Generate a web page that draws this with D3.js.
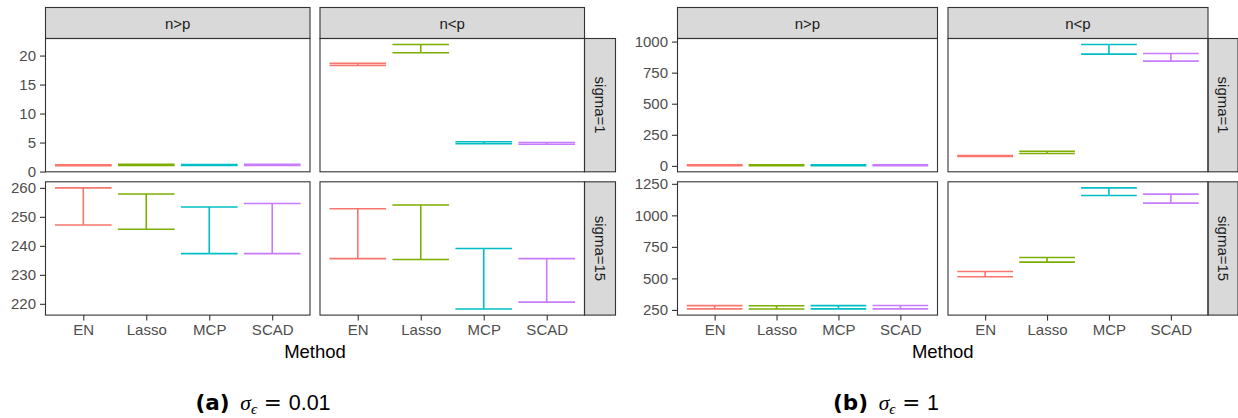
<!DOCTYPE html>
<html>
<head>
<meta charset="utf-8">
<script src="https://cdn.jsdelivr.net/npm/d3@7.9.0/dist/d3.min.js"></script>
<style>
  body { margin: 0; background: #fff; }
  text { font-family: "Liberation Sans", Arial, sans-serif; }
</style>
</head>
<body>
<svg width="1238" height="418"></svg>
<script>
// categories and facets
const methods = ["EN", "Lasso", "MCP", "SCAD"];
const regimes = ["n>p", "n<p"];
const sigmas = ["sigma=1", "sigma=15"];
const colors = ["#F8766D", "#7CAE00", "#00BFC4", "#C77CFF"];

// (a) sigma_eps = 0.01, [lower, upper] for each method
const aGtS1 = [[1.0, 1.15], [1.05, 1.25], [1.05, 1.2], [1.05, 1.25]];
const aLtS1 = [[18.3, 18.65], [20.5, 21.9], [4.8, 5.15], [4.7, 5.0]];
const aGtS15 = [[247.2, 260.0], [245.7, 257.9], [237.3, 253.4], [237.3, 254.6]];
const aLtS15 = [[235.6, 252.8], [235.3, 254.1], [218.2, 239.1], [220.6, 235.6]];
const aTicks1 = [0, 5, 10, 15, 20];
const aTicks15 = [220, 230, 240, 250, 260];

// (b) sigma_eps = 1
const bGtS1 = [[1, 8], [1, 8], [1, 8], [1, 8]];
const bLtS1 = [[75, 82], [100, 118], [899, 976], [843, 904]];
const bGtS15 = [[258, 284], [257, 283], [258, 284], [258, 285]];
const bLtS15 = [[513, 555], [629, 666], [1158, 1218], [1097, 1168]];
const bTicks1 = [0, 250, 500, 750, 1000];
const bTicks15 = [250, 500, 750, 1000, 1250];

const svg = d3.select("svg");

const stripTop = 7.5, stripH = 31, rowH = 133.3, rowGap = 10;
const rowTops = [stripTop + stripH, stripTop + stripH + rowH + rowGap];
const fs = 15;

function drawGrid(cfg) {
  const g = svg.append("g");
  const colLefts = [cfg.left, cfg.left + cfg.panelW + cfg.gap];
  const right = colLefts[1] + cfg.panelW;

  // column strips
  regimes.forEach((r, j) => {
    g.append("rect")
      .attr("x", colLefts[j]).attr("y", stripTop)
      .attr("width", cfg.panelW).attr("height", stripH)
      .attr("fill", "#D9D9D9").attr("stroke", "#333").attr("stroke-width", 1.1);
    g.append("text")
      .attr("x", colLefts[j] + cfg.panelW / 2).attr("y", stripTop + stripH / 2)
      .attr("text-anchor", "middle").attr("dominant-baseline", "central")
      .attr("font-size", fs).attr("fill", "#1A1A1A")
      .text(r);
  });

  cfg.rows.forEach((row, i) => {
    const top = rowTops[i];
    const all = row.flat(2);
    const lo = d3.min(all), hi = d3.max(all);
    const pad = (hi - lo) * 0.05;
    const y = d3.scaleLinear().domain([lo - pad, hi + pad]).range([top + rowH, top]);

    // row strip
    g.append("rect")
      .attr("x", right).attr("y", top)
      .attr("width", cfg.stripW).attr("height", rowH)
      .attr("fill", "#D9D9D9").attr("stroke", "#333").attr("stroke-width", 1.1);
    g.append("text")
      .attr("transform", `translate(${right + cfg.stripW / 2},${top + rowH / 2}) rotate(90)`)
      .attr("text-anchor", "middle").attr("dominant-baseline", "central")
      .attr("font-size", fs).attr("fill", "#1A1A1A")
      .text(sigmas[i]);

    // y axis on the left column
    const yAxis = g.append("g")
      .attr("transform", `translate(${cfg.left},0)`)
      .call(d3.axisLeft(y).tickValues(cfg.ticks[i]).tickFormat(d3.format("d"))
        .tickSize(5.5).tickPadding(4));
    yAxis.select(".domain").remove();
    yAxis.selectAll(".tick line").attr("stroke", "#333").attr("stroke-width", 1.1);
    yAxis.selectAll(".tick text")
      .attr("font-size", fs).attr("fill", "#4D4D4D")
      .style("font-family", "'Liberation Sans', Arial, sans-serif");

    row.forEach((panel, j) => {
      const x = d3.scalePoint().domain(methods)
        .range([colLefts[j], colLefts[j] + cfg.panelW]).padding(0.6);
      const capW = x.step() * 0.9;

      const bars = g.append("g");
      panel.forEach((d, k) => {
        const cx = x(methods[k]);
        const c = colors[k];
        bars.append("line")
          .attr("x1", cx).attr("x2", cx)
          .attr("y1", y(d[0])).attr("y2", y(d[1]))
          .attr("stroke", c).attr("stroke-width", 1.6);
        d.forEach(v => {
          bars.append("line")
            .attr("x1", cx - capW / 2).attr("x2", cx + capW / 2)
            .attr("y1", y(v)).attr("y2", y(v))
            .attr("stroke", c).attr("stroke-width", 1.6);
        });
      });

      g.append("rect")
        .attr("x", colLefts[j]).attr("y", top)
        .attr("width", cfg.panelW).attr("height", rowH)
        .attr("fill", "none").attr("stroke", "#333").attr("stroke-width", 1.1);

      if (i === 1) {
        const xAxis = g.append("g")
          .attr("transform", `translate(0,${top + rowH})`)
          .call(d3.axisBottom(x).tickSize(5.5).tickPadding(4));
        xAxis.select(".domain").remove();
        xAxis.selectAll(".tick line").attr("stroke", "#333").attr("stroke-width", 1.1);
        xAxis.selectAll(".tick text")
          .attr("font-size", fs).attr("fill", "#4D4D4D")
          .style("font-family", "'Liberation Sans', Arial, sans-serif");
      }
    });
  });

  g.append("text")
    .attr("x", (cfg.left + right) / 2).attr("y", 358)
    .attr("text-anchor", "middle").attr("font-size", 18.5).attr("fill", "#000")
    .text("Method");

  const cap = g.append("text")
    .attr("x", cfg.capX).attr("y", 410)
    .attr("text-anchor", "middle").attr("font-size", 21.5).attr("fill", "#000");
  cap.append("tspan").attr("font-weight", "bold")
    .style("font-family", "'DejaVu Sans', sans-serif").text(cfg.label);
  cap.append("tspan").attr("font-style", "italic")
    .style("font-family", "'Liberation Serif', serif").text("\u2002\u03C3");
  cap.append("tspan").attr("font-style", "italic").attr("font-size", 15).attr("dy", 4)
    .style("font-family", "'Liberation Serif', serif").text("\u03F5");
  cap.append("tspan").attr("dy", -4)
    .style("font-family", "'DejaVu Sans', sans-serif").text(" = ");
  cap.append("tspan").text(cfg.value);
}

drawGrid({
  left: 45.5, panelW: 264.5, gap: 10, stripW: 31,
  rows: [[aGtS1, aLtS1], [aGtS15, aLtS15]],
  ticks: [aTicks1, aTicks15],
  label: "(a)", value: "0.01", capX: 263
});

drawGrid({
  left: 677.5, panelW: 260, gap: 10.5, stripW: 30,
  rows: [[bGtS1, bLtS1], [bGtS15, bLtS15]],
  ticks: [bTicks1, bTicks15],
  label: "(b)", value: "1", capX: 886
});
</script>
</body>
</html>
